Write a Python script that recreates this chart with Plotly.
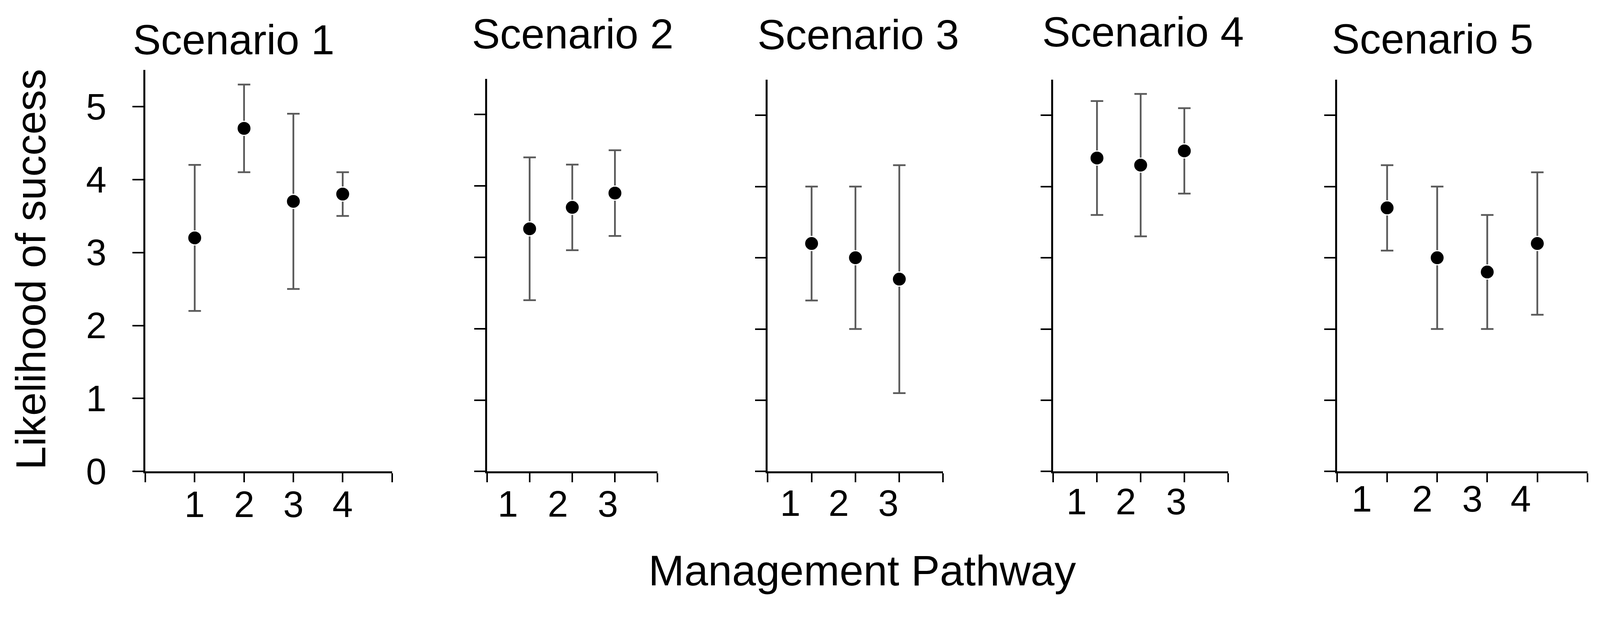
import plotly.graph_objects as go
import numpy as np

# ---------------- data ----------------
scenarios = ["Scenario 1", "Scenario 2", "Scenario 3", "Scenario 4", "Scenario 5"]
pathways = [[1, 2, 3, 4], [1, 2, 3], [1, 2, 3], [1, 2, 3], [1, 2, 3, 4]]
means = [[3.2, 4.7, 3.7, 3.8], [3.4, 3.7, 3.9], [3.2, 3.0, 2.7], [4.4, 4.3, 4.5], [3.7, 3.0, 2.8, 3.2]]
lows = [[2.2, 4.1, 2.5, 3.5], [2.4, 3.1, 3.3], [2.4, 2.0, 1.1], [3.6, 3.3, 3.9], [3.1, 2.0, 2.0, 2.2]]
highs = [[4.2, 5.3, 4.9, 4.1], [4.4, 4.3, 4.5], [4.0, 4.0, 4.3], [5.2, 5.3, 5.1], [4.3, 4.0, 3.6, 4.2]]
pathway_labels = [["1", "2", "3", "4"], ["1", "2", "3"], ["1", "2", "3"], ["1", "2", "3"], ["1", "2", "3", "4"]]
y_ticks = [0, 1, 2, 3, 4, 5]
y_title = "Likelihood of success"
x_title = "Management Pathway"

# ---------------- layout (reference canvas 4314x1621, used as fractions) ----------------
W, H = 4314, 1621
Y_COMP = 1.015  # the capture stretches the page slightly in height
FONT = "Liberation Sans, Arial, Helvetica, sans-serif"


def py(p):
    """paper y fraction for a pixel row p (from the top) of the reference"""
    return 1 - p / (H * Y_COMP)


panel_left = [392, 1313, 2070, 2840, 3605]
panel_right = [1057, 1773, 2543, 3311, 4280]
panel_top = [188, 212, 214, 214, 214]
panel_bottom = 1267
title_cx = [630, 1544, 2314, 3082, 3862]
title_cy = [107, 91, 93, 86, 104]
label_x = [[1, 2, 3, 4], [0.49, 1.66, 2.83], [0.51, 1.62, 2.75], [0.53, 1.66, 2.81], [0.49, 1.70, 2.70, 3.67]]
label_cy = [1355, 1354, 1352, 1348, 1340]

fig = go.Figure()
annotations = []
layout = {}

for i in range(5):
    n = len(pathways[i])
    xs = "x" if i == 0 else f"x{i+1}"
    ys = "y" if i == 0 else f"y{i+1}"
    m = np.array(means[i])
    lo = np.array(lows[i])
    hi = np.array(highs[i])
    fig.add_trace(go.Scatter(
        x=pathways[i], y=m, mode="markers", xaxis=xs, yaxis=ys,
        marker=dict(color="black", size=36, line=dict(color="white", width=3)),
        error_y=dict(type="data", symmetric=False, array=hi - m, arrayminus=m - lo,
                     color="#5a5a5a", thickness=4.5, width=16),
        showlegend=False, hoverinfo="skip"))

    xkey = "xaxis" if i == 0 else f"xaxis{i+1}"
    ykey = "yaxis" if i == 0 else f"yaxis{i+1}"
    layout[xkey] = dict(
        domain=[panel_left[i] / W, panel_right[i] / W],
        range=[0, n + 1], anchor=ys,
        tickmode="array", tickvals=list(range(n + 2)), showticklabels=False,
        ticks="outside", ticklen=23, tickwidth=4, tickcolor="black",
        showline=True, linecolor="black", linewidth=4.5,
        showgrid=False, zeroline=False, fixedrange=True)
    layout[ykey] = dict(
        domain=[py(panel_bottom), py(panel_top[i])],
        range=[0, 5.5], anchor=xs,
        tickmode="array", tickvals=y_ticks, ticktext=[str(v) for v in y_ticks],
        showticklabels=(i == 0), ticklabelstandoff=48,
        tickfont=dict(family=FONT, size=94, color="black"),
        ticks="outside", ticklen=28, tickwidth=4, tickcolor="black",
        showline=True, linecolor="black", linewidth=4.5,
        showgrid=False, zeroline=False, fixedrange=True)

    annotations.append(dict(
        text=scenarios[i], xref="paper", yref="paper",
        x=title_cx[i] / W, y=py(title_cy[i]), xanchor="center", yanchor="middle",
        showarrow=False, font=dict(family=FONT, size=108, color="black")))
    for lx, lt in zip(label_x[i], pathway_labels[i]):
        annotations.append(dict(
            text=lt, xref=xs, yref="paper", x=lx, y=py(label_cy[i]),
            xanchor="center", yanchor="middle", showarrow=False,
            font=dict(family=FONT, size=94, color="black")))

annotations.append(dict(
    text=y_title, xref="paper", yref="paper", x=82 / W, y=py(723),
    xanchor="center", yanchor="middle", textangle=-90, showarrow=False,
    font=dict(family=FONT, size=108, color="black")))
annotations.append(dict(
    text=x_title, xref="paper", yref="paper", x=2325 / W, y=py(1533),
    xanchor="center", yanchor="middle", showarrow=False,
    font=dict(family=FONT, size=110, color="black")))

fig.update_layout(
    autosize=True, margin=dict(l=0, r=0, t=0, b=0),
    paper_bgcolor="white", plot_bgcolor="white",
    annotations=annotations, **layout)

fig.write_html(
    "out.html",
    default_width="100vw", default_height="100vh",
    config={"responsive": True, "displayModeBar": False},
    post_script=(
        "document.documentElement.style.margin='0';"
        "document.body.style.margin='0';"
        "document.body.style.overflow='hidden';"
        "Plotly.Plots.resize(document.getElementById('{plot_id}'));"
    ),
)
